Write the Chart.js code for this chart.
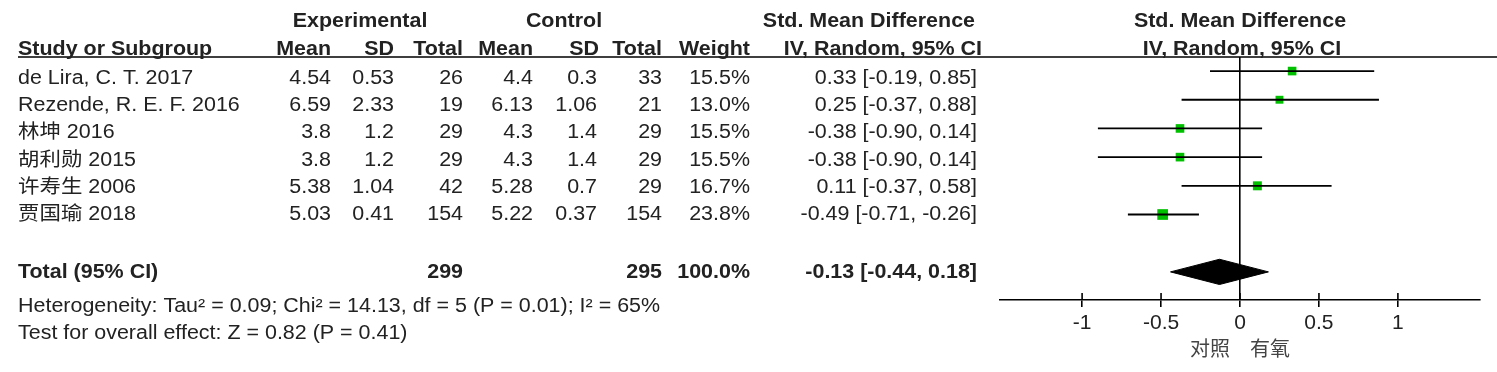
<!DOCTYPE html>
<html>
<head>
<meta charset="utf-8">
<title>Forest plot</title>
<script src="https://cdn.jsdelivr.net/npm/chart.js@4/dist/chart.umd.min.js"></script>
<style>
  html, body { margin: 0; padding: 0; background: #fff; }
  canvas { display: block; }
</style>
</head>
<body>
<canvas id="forest" width="1497" height="372"></canvas>
<script>
// study rows
const studies = ['de Lira, C. T. 2017', 'Rezende, R. E. F. 2016', '林坤 2016', '胡利勋 2015', '许寿生 2006', '贾国瑜 2018'];
const expMean = [4.54, 6.59, 3.8, 3.8, 5.38, 5.03];
const expSD = [0.53, 2.33, 1.2, 1.2, 1.04, 0.41];
const expTotal = [26, 19, 29, 29, 42, 154];
const ctlMean = [4.4, 6.13, 4.3, 4.3, 5.28, 5.22];
const ctlSD = [0.3, 1.06, 1.4, 1.4, 0.7, 0.37];
const ctlTotal = [33, 21, 29, 29, 29, 154];
const weights = [15.5, 13.0, 15.5, 15.5, 16.7, 23.8];
const smd = [0.33, 0.25, -0.38, -0.38, 0.11, -0.49];
const ciLow = [-0.19, -0.37, -0.90, -0.90, -0.37, -0.71];
const ciHigh = [0.85, 0.88, 0.14, 0.14, 0.58, -0.26];

// pooled result
const totalExp = 299;
const totalCtl = 295;
const totalWeight = 100.0;
const totalSmd = -0.13;
const totalLow = -0.44;
const totalHigh = 0.18;

const xTicks = [-1, -0.5, 0, 0.5, 1];
const heterogeneity = 'Heterogeneity: Tau² = 0.09; Chi² = 14.13, df = 5 (P = 0.01); I² = 65%';
const overallEffect = 'Test for overall effect: Z = 0.82 (P = 0.41)';
const axisLabel = '对照　有氧';

const FONT = '"Liberation Sans", Arial, "Noto Sans CJK SC", sans-serif';
const totalRow = studies.length + 1;

const fmtCI = (m, lo, hi) => `${m.toFixed(2)} [${lo.toFixed(2)}, ${hi.toFixed(2)}]`;

function put(ctx, str, x, y, align, bold) {
  ctx.save();
  ctx.translate(x, y);
  ctx.scale(1.1, 1);
  ctx.font = (bold ? 'bold ' : '') + '19.5px ' + FONT;
  ctx.textAlign = align;
  ctx.textBaseline = 'alphabetic';
  ctx.fillStyle = '#222';
  ctx.fillText(str, 0, 0);
  ctx.restore();
}

const tablePlugin = {
  id: 'forestTable',
  afterDraw(chart) {
    const ctx = chart.ctx;
    const xs = chart.scales.x;
    const area = chart.chartArea;

    ctx.save();
    ctx.strokeStyle = '#000';
    ctx.lineWidth = 1.6;
    ctx.beginPath();
    // rule under the column headers
    ctx.moveTo(18, area.top);
    ctx.lineTo(1497, area.top);
    // upper half of the tick marks
    xs.ticks.forEach(t => {
      const px = xs.getPixelForValue(t.value);
      ctx.moveTo(px, area.bottom - 7);
      ctx.lineTo(px, area.bottom);
    });
    ctx.stroke();
    ctx.restore();

    // headers
    put(ctx, 'Experimental', 360, 27, 'center', true);
    put(ctx, 'Control', 564, 27, 'center', true);
    put(ctx, 'Std. Mean Difference', 975, 27, 'right', true);
    put(ctx, 'Std. Mean Difference', 1240, 27, 'center', true);
    put(ctx, 'Study or Subgroup', 18, 55, 'left', true);
    put(ctx, 'Mean', 331, 55, 'right', true);
    put(ctx, 'SD', 394, 55, 'right', true);
    put(ctx, 'Total', 463, 55, 'right', true);
    put(ctx, 'Mean', 533, 55, 'right', true);
    put(ctx, 'SD', 599, 55, 'right', true);
    put(ctx, 'Total', 662, 55, 'right', true);
    put(ctx, 'Weight', 750, 55, 'right', true);
    put(ctx, 'IV, Random, 95% CI', 982, 55, 'right', true);
    put(ctx, 'IV, Random, 95% CI', 1242, 55, 'center', true);

    // study rows (the table rows sit a little tighter than the plot rows)
    const rowTop = 84, rowStep = 27.2;
    studies.forEach((name, i) => {
      const py = rowTop + i * rowStep;
      put(ctx, name, 18, py, 'left');
      put(ctx, String(expMean[i]), 331, py, 'right');
      put(ctx, String(expSD[i]), 394, py, 'right');
      put(ctx, String(expTotal[i]), 463, py, 'right');
      put(ctx, String(ctlMean[i]), 533, py, 'right');
      put(ctx, String(ctlSD[i]), 597, py, 'right');
      put(ctx, String(ctlTotal[i]), 662, py, 'right');
      put(ctx, weights[i].toFixed(1) + '%', 750, py, 'right');
      put(ctx, fmtCI(smd[i], ciLow[i], ciHigh[i]), 977, py, 'right');
    });

    // total row and footnotes
    const ty = 278;
    put(ctx, 'Total (95% CI)', 18, ty, 'left', true);
    put(ctx, String(totalExp), 463, ty, 'right', true);
    put(ctx, String(totalCtl), 662, ty, 'right', true);
    put(ctx, totalWeight.toFixed(1) + '%', 750, ty, 'right', true);
    put(ctx, fmtCI(totalSmd, totalLow, totalHigh), 977, ty, 'right', true);
    put(ctx, heterogeneity, 18, ty + 34, 'left');
    put(ctx, overallEffect, 18, ty + 61, 'left');
  }
};

// one short line per study for its confidence interval
const ciSets = studies.map((s, i) => ({
  label: s,
  data: [{ x: ciLow[i], y: i }, { x: ciHigh[i], y: i }],
  showLine: true,
  borderColor: '#000',
  borderWidth: 1.8,
  pointRadius: 0,
  fill: false
}));

const halfH = 0.44;
const diamond = {
  label: 'Total',
  data: [
    { x: totalLow, y: totalRow },
    { x: totalSmd, y: totalRow - halfH },
    { x: totalHigh, y: totalRow },
    { x: totalSmd, y: totalRow + halfH },
    { x: totalLow, y: totalRow }
  ],
  showLine: true,
  borderColor: '#000',
  borderWidth: 1,
  backgroundColor: '#000',
  pointRadius: 0,
  fill: 'shape'
};

const squares = {
  label: 'SMD',
  data: smd.map((v, i) => ({ x: v, y: i })),
  pointStyle: 'rect',
  pointRadius: weights.map(w => 1.55 * Math.sqrt(w)),
  backgroundColor: '#00c000',
  borderWidth: 0
};

new Chart(document.getElementById('forest'), {
  type: 'scatter',
  data: { datasets: [...ciSets, squares, diamond] },
  options: {
    responsive: false,
    animation: false,
    devicePixelRatio: 1,
    layout: { padding: { left: 1000, right: 17, top: 57, bottom: 0 } },
    plugins: {
      legend: { display: false },
      tooltip: { enabled: false }
    },
    scales: {
      x: {
        type: 'linear',
        min: -1.52,
        max: 1.52,
        afterBuildTicks: scale => { scale.ticks = xTicks.map(v => ({ value: v })); },
        afterFit: scale => { scale.height = 72; },
        border: { display: true, color: '#000', width: 1.6 },
        grid: {
          drawOnChartArea: true,
          color: c => (c.tick && c.tick.value === 0 ? '#000' : 'rgba(0,0,0,0)'),
          lineWidth: 1.6,
          tickColor: '#000',
          tickLength: 7
        },
        ticks: {
          color: '#222',
          padding: 4,
          font: { family: FONT, size: 21 },
          callback: v => String(v)
        },
        title: {
          display: true,
          text: axisLabel,
          color: '#444',
          font: { family: FONT, size: 20 },
          padding: { top: 2, bottom: 10 }
        }
      },
      y: {
        type: 'linear',
        display: false,
        reverse: true,
        min: -0.49,
        max: 7.98
      }
    }
  },
  plugins: [tablePlugin]
});
</script>
</body>
</html>
